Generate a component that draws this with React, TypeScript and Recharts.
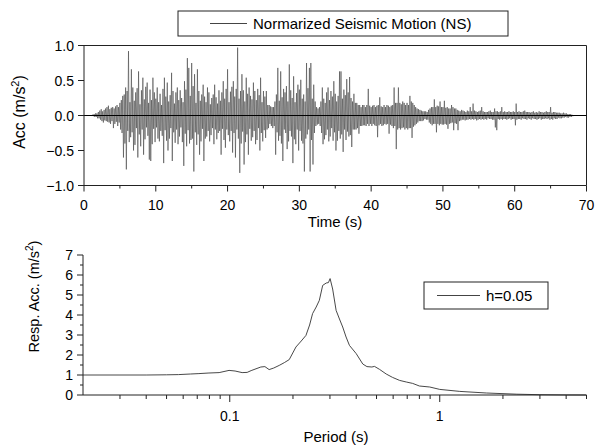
import { LineChart, Line, XAxis, YAxis, ReferenceLine } from "recharts";

const FONT = '"Liberation Sans", Arial, sans-serif';

// digitised record, one sample every DT seconds
const DT = 0.1;

// acceleration (m/s²), 10 samples per second, one row per second
const acc0to10 = [
  0, 0, 0, 0, 0, 0, 0, 0, 0, 0,
  0, 0, 0.01, -0.01, 0.02, -0.02, 0.03, -0.02, 0.03, -0.04,
  0.05, -0.04, 0.07, -0.06, 0.09, -0.08, 0.06, -0.1, 0.08, -0.07,
  0.1, -0.08, 0.12, -0.09, 0.14, -0.1, 0.09, -0.12, 0.11, -0.08,
  0.12, -0.18, 0.1, -0.12, 0.13, -0.09, 0.15, -0.15, 0.12, -0.1,
  0.18, -0.2, 0.22, -0.25, 0.28, -0.6, 0.3, -0.4, 0.4, -0.77,
  0.35, -0.22, 0.92, -0.38, 0.19, -0.31, 0.66, -0.24, 0.4, -0.5,
  0.21, -0.42, 0.33, -0.18, 0.39, -0.6, 0.63, -0.27, 0.16, -0.44,
  0.36, -0.2, 0.54, -0.56, 0.23, -0.34, 0.41, -0.17, 0.47, -0.29,
  0.18, -0.63, 0.37, -0.65, 0.22, -0.41, 0.54, -0.19, 0.33, -0.38,
];
const acc10to20 = [
  0.24, -0.17, 0.4, -0.33, 0.19, -0.37, 0.31, -0.22, 0.15, -0.29,
  0.38, -0.68, 0.54, -0.21, 0.27, -0.36, 0.47, -0.5, 0.2, -0.33,
  0.29, -0.18, 0.61, -0.65, 0.35, -0.24, 0.17, -0.39, 0.33, -0.2,
  0.4, -0.41, 0.22, -0.3, 0.36, -0.17, 0.25, -0.38, 0.19, -0.72,
  0.49, -0.26, 0.37, -0.44, 0.82, -0.21, 0.68, -0.4, 0.28, -0.35,
  0.75, -0.33, 0.42, -0.8, 0.59, -0.24, 0.18, -0.42, 0.66, -0.27,
  0.35, -0.56, 0.21, -0.37, 0.3, -0.19, 0.44, -0.65, 0.27, -0.33,
  0.19, -0.3, 0.4, -0.22, 0.33, -0.37, 0.16, -0.28, 0.25, -0.18,
  0.3, -0.41, 0.44, -0.2, 0.26, -0.34, 0.17, -0.25, 0.36, -0.22,
  0.21, -0.56, 0.33, -0.19, 0.49, -0.35, 0.24, -0.46, 0.38, -0.2,
];
const acc20to30 = [
  0.66, -0.28, 0.19, -0.37, 0.34, -0.22, 0.41, -0.53, 0.49, -0.25,
  0.27, -0.6, 0.38, -0.2, 0.97, -0.33, 0.24, -0.82, 0.35, -0.4,
  0.59, -0.23, 0.36, -0.7, 0.2, -0.38, 0.54, -0.27, 0.31, -0.56,
  0.4, -0.19, 0.28, -0.36, 0.23, -0.31, 0.47, -0.22, 0.35, -0.41,
  0.22, -0.35, 0.38, -0.18, 0.29, -0.5, 0.54, -0.25, 0.19, -0.37,
  0.35, -0.21, 0.27, -0.32, 0.35, -0.2, 0.15, -0.18, 0.15, -0.12,
  0.13, -0.15, 0.12, -0.18, 0.12, -0.15, 0.2, -0.56, 0.3, -0.24,
  0.68, -0.36, 0.21, -0.29, 0.63, -0.4, 0.26, -0.65, 0.38, -0.2,
  0.33, -0.25, 0.42, -0.48, 0.2, -0.37, 0.73, -0.22, 0.36, -0.3,
  0.25, -0.68, 0.56, -0.34, 0.19, -0.41, 0.32, -0.2, 0.44, -0.5,
];
const acc30to40 = [
  0.37, -0.22, 0.51, -0.36, 0.24, -0.4, 0.3, -0.8, 0.2, -0.33,
  0.75, -0.27, 0.39, -0.2, 0.68, -0.8, 0.75, -0.35, 0.24, -0.7,
  0.44, -0.25, 0.2, -0.15, 0.12, -0.13, 0.1, -0.12, 0.12, -0.15,
  0.2, -0.25, 0.4, -0.41, 0.24, -0.34, 0.18, -0.28, 0.33, -0.2,
  0.4, -0.37, 0.22, -0.3, 0.35, -0.18, 0.27, -0.36, 0.49, -0.24,
  0.31, -0.5, 0.2, -0.36, 0.28, -0.22, 0.63, -0.33, 0.63, -0.27,
  0.24, -0.52, 0.37, -0.2, 0.29, -0.35, 0.52, -0.23, 0.33, -0.3,
  0.55, -0.28, 0.25, -0.45, 0.2, -0.2, 0.31, -0.2, 0.18, -0.2,
  0.18, -0.18, 0.15, -0.26, 0.15, -0.15, 0.12, -0.15, 0.15, -0.14,
  0.15, -0.14, 0.12, -0.15, 0.15, -0.12, 0.38, -0.15, 0.14, -0.12,
];
const acc40to50 = [
  0.12, -0.15, 0.14, -0.12, 0.15, -0.14, 0.12, -0.15, 0.14, -0.31,
  0.15, -0.14, 0.26, -0.12, 0.13, -0.15, 0.12, -0.14, 0.15, -0.12,
  0.12, -0.13, 0.15, -0.12, 0.14, -0.26, 0.12, -0.13, 0.14, -0.15,
  0.15, -0.18, 0.4, -0.15, 0.18, -0.48, 0.18, -0.2, 0.4, -0.18,
  0.18, -0.2, 0.16, -0.18, 0.2, -0.17, 0.18, -0.2, 0.15, -0.18,
  0.18, -0.2, 0.15, -0.18, 0.28, -0.18, 0.2, -0.32, 0.18, -0.16,
  0.15, -0.14, 0.12, -0.12, 0.1, -0.1, 0.09, -0.08, 0.08, -0.08,
  0.07, -0.08, 0.06, -0.07, 0.06, -0.05, 0.06, -0.06, 0.05, -0.06,
  0.08, -0.1, 0.1, -0.12, 0.12, -0.14, 0.12, -0.12, 0.23, -0.12,
  0.12, -0.24, 0.14, -0.12, 0.13, -0.14, 0.2, -0.12, 0.12, -0.13,
];
const acc50to60 = [
  0.12, -0.13, 0.21, -0.12, 0.11, -0.13, 0.12, -0.19, 0.1, -0.12,
  0.1, -0.11, 0.15, -0.1, 0.12, -0.21, 0.1, -0.11, 0.1, -0.12,
  0.08, -0.21, 0.07, -0.08, 0.06, -0.07, 0.08, -0.06, 0.07, -0.06,
  0.06, -0.07, 0.05, -0.06, 0.07, -0.06, 0.06, -0.05, 0.12, -0.06,
  0.06, -0.05, 0.17, -0.06, 0.07, -0.05, 0.06, -0.07, 0.05, -0.06,
  0.06, -0.05, 0.07, -0.06, 0.12, -0.05, 0.06, -0.06, 0.05, -0.05,
  0.05, -0.06, 0.05, -0.04, 0.06, -0.05, 0.07, -0.05, 0.05, -0.06,
  0.05, -0.06, 0.1, -0.17, 0.06, -0.21, 0.06, -0.05, 0.05, -0.06,
  0.06, -0.05, 0.12, -0.06, 0.05, -0.05, 0.06, -0.05, 0.05, -0.06,
  0.05, -0.05, 0.06, -0.04, 0.05, -0.06, 0.05, -0.05, 0.06, -0.05,
];
const acc60to70 = [
  0.05, -0.14, 0.17, -0.06, 0.05, -0.05, 0.06, -0.05, 0.05, -0.06,
  0.05, -0.04, 0.06, -0.05, 0.07, -0.05, 0.05, -0.06, 0.05, -0.04,
  0.05, -0.05, 0.04, -0.06, 0.05, -0.04, 0.06, -0.05, 0.04, -0.05,
  0.05, -0.06, 0.04, -0.05, 0.06, -0.04, 0.05, -0.06, 0.05, -0.05,
  0.04, -0.05, 0.05, -0.04, 0.06, -0.05, 0.05, -0.04, 0.05, -0.06,
  0.12, -0.05, 0.04, -0.06, 0.05, -0.04, 0.05, -0.05, 0.04, -0.05,
  0.04, -0.03, 0.04, -0.04, 0.03, -0.04, 0.03, -0.03, 0.04, -0.03,
  0.03, -0.02, 0.03, -0.03, 0.02, -0.03, 0.02, -0.02, 0.02, -0.02,
  0.01, -0.01, 0,
];

const timeTicks = [0, 5, 10, 15, 20, 25, 30, 35, 40, 45, 50, 55, 60, 65, 70];
const accTicks = [-1, -0.5, 0, 0.5, 1];

// acceleration response spectrum, h = 0.05
const periods = [
  0.02, 0.03, 0.04, 0.05, 0.057, 0.065, 0.0713, 0.0796, 0.089, 0.0992,
  0.106, 0.1145, 0.121, 0.1264, 0.1406, 0.147, 0.154, 0.162, 0.172, 0.182,
  0.192, 0.2066, 0.219, 0.2306, 0.24, 0.248, 0.258, 0.267, 0.277, 0.288,
  0.295, 0.3005, 0.309, 0.321, 0.333, 0.345, 0.358, 0.3715, 0.4, 0.43,
  0.45, 0.475, 0.489, 0.517, 0.556, 0.596, 0.644, 0.693, 0.743, 0.8,
  0.896, 1.0, 1.246, 1.67, 2.33, 3.0, 4.0, 5.0,
];
const respAcc = [
  1.0, 1.0, 1.0, 1.01, 1.02, 1.05, 1.07, 1.1, 1.12, 1.23,
  1.2, 1.12, 1.13, 1.22, 1.4, 1.42, 1.27, 1.35, 1.48, 1.62,
  1.77, 2.4, 2.7, 2.98, 3.5, 4.07, 4.4, 4.73, 5.48, 5.6,
  5.62, 5.82, 5.3, 4.23, 3.8, 3.4, 2.9, 2.48, 2.07, 1.55,
  1.42, 1.4, 1.43, 1.28, 1.05, 0.88, 0.73, 0.65, 0.58, 0.45,
  0.4, 0.28, 0.18, 0.1, 0.04, 0.015, 0.003, 0,
];

const periodTicks = [
  0.03, 0.04, 0.05, 0.06, 0.07, 0.08, 0.09, 0.1,
  0.2, 0.3, 0.4, 0.5, 0.6, 0.7, 0.8, 0.9, 1, 2, 3, 4, 5,
];
const periodLabels = [0.1, 1];
const saTicks = [0, 0.5, 1, 1.5, 2, 2.5, 3, 3.5, 4, 4.5, 5, 5.5, 6, 6.5, 7];

const accRecord = [
  ...acc0to10, ...acc10to20, ...acc20to30, ...acc30to40,
  ...acc40to50, ...acc50to60, ...acc60to70,
].map((a, i) => ({ t: i * DT, a }));

const spectrum = periods.map((T, i) => ({ T, sa: respAcc[i] }));

const INK = "#222";

function TimeTick({ x, y, payload }: any) {
  const major = payload.value % 10 === 0;
  return (
    <g>
      <line x1={x} x2={x} y1={y} y2={y + (major ? 6 : 3)} stroke={INK} />
      {major && (
        <text x={x} y={y + 24.5} textAnchor="middle" fontSize={14} fontFamily={FONT} fill="#000">
          {payload.value}
        </text>
      )}
    </g>
  );
}

function AccTick({ x, y, payload }: any) {
  const v = payload.value as number;
  const label = (v < 0 ? "\u2212" : "") + Math.abs(v).toFixed(1);
  return (
    <g>
      <line x1={x - 6} x2={x} y1={y} y2={y} stroke={INK} />
      <text x={x - 10} y={y + 5} textAnchor="end" fontSize={14} fontFamily={FONT} fill="#000">
        {label}
      </text>
    </g>
  );
}

function PeriodTick({ x, y, payload }: any) {
  const major = periodLabels.includes(payload.value);
  return (
    <g>
      <line x1={x} x2={x} y1={y} y2={y + (major ? 7 : 4)} stroke={INK} />
      {major && (
        <text x={x} y={y + 26} textAnchor="middle" fontSize={14} fontFamily={FONT} fill="#000">
          {payload.value}
        </text>
      )}
    </g>
  );
}

function SaTick({ x, y, payload }: any) {
  const major = Number.isInteger(payload.value);
  return (
    <g>
      <line x1={x - (major ? 6 : 3)} x2={x} y1={y} y2={y} stroke={INK} />
      {major && (
        <text x={x - 10} y={y + 5} textAnchor="end" fontSize={14} fontFamily={FONT} fill="#000">
          {payload.value}
        </text>
      )}
    </g>
  );
}

export default function App() {
  return (
    <div style={{ position: "absolute", left: 0, top: 0, width: 595, height: 447, background: "#fff" }}>
      <div style={{ position: "absolute", left: 0, top: 0 }}>
        <LineChart
          width={595}
          height={240}
          data={accRecord}
          margin={{ top: 45.5, right: 8.5, bottom: 24.5, left: 24 }}
        >
          <XAxis
            dataKey="t"
            type="number"
            domain={[0, 70]}
            ticks={timeTicks}
            interval={0}
            tick={<TimeTick />}
            tickLine={false}
            tickSize={0}
            tickMargin={0}
            height={30}
            stroke={INK}
          />
          <YAxis
            type="number"
            domain={[-1, 1]}
            ticks={accTicks}
            interval={0}
            tick={<AccTick />}
            tickLine={false}
            tickSize={0}
            tickMargin={0}
            width={60}
            stroke={INK}
          />
          <ReferenceLine y={1} stroke={INK} />
          <ReferenceLine x={70} stroke={INK} />
          <Line
            type="linear"
            dataKey="a"
            stroke="#444"
            strokeWidth={0.6}
            dot={false}
            isAnimationActive={false}
          />
          <ReferenceLine y={0} stroke="#000" strokeWidth={1.2} />
          <rect x={178} y={11} width={330} height={25} fill="#fff" stroke={INK} />
          <line x1={210} x2={247} y1={23.5} y2={23.5} stroke="#444" />
          <text x={253} y={29} fontSize={15} fontFamily={FONT} fill="#000">
            Normarized Seismic Motion (NS)
          </text>
          <text x={335} y={227} textAnchor="middle" fontSize={15} fontFamily={FONT} fill="#000">
            Time (s)
          </text>
          <text
            transform="translate(25,112) rotate(-90)"
            textAnchor="middle"
            fontSize={16}
            fontFamily={FONT}
            fill="#000"
          >
            Acc (m/s<tspan dy={-6} fontSize={11}>2</tspan>
            <tspan dy={6}>)</tspan>
          </text>
        </LineChart>
      </div>
      <div style={{ position: "absolute", left: 0, top: 225 }}>
        <LineChart
          width={595}
          height={222}
          data={spectrum}
          margin={{ top: 30, right: 8.5, bottom: 22, left: 23 }}
        >
          <XAxis
            dataKey="T"
            type="number"
            scale="log"
            domain={[0.02, 5]}
            allowDataOverflow
            ticks={periodTicks}
            interval={0}
            tick={<PeriodTick />}
            tickLine={false}
            tickSize={0}
            tickMargin={0}
            height={30}
            stroke={INK}
          />
          <YAxis
            type="number"
            domain={[0, 7]}
            ticks={saTicks}
            interval={0}
            tick={<SaTick />}
            tickLine={false}
            tickSize={0}
            tickMargin={0}
            width={60}
            stroke={INK}
          />
          <Line
            type="linear"
            dataKey="sa"
            stroke="#333"
            strokeWidth={0.9}
            dot={false}
            isAnimationActive={false}
          />
          <rect x={424} y={57} width={124} height={27} fill="#fff" stroke={INK} />
          <line x1={437} x2={480} y1={70.5} y2={70.5} stroke="#444" />
          <text x={486} y={76} fontSize={15} fontFamily={FONT} fill="#000">
            h=0.05
          </text>
          <text x={336} y={217} textAnchor="middle" fontSize={15} fontFamily={FONT} fill="#000">
            Period (s)
          </text>
          <text
            transform="translate(39,71.5) rotate(-90)"
            textAnchor="middle"
            fontSize={14.5}
            fontFamily={FONT}
            fill="#000"
          >
            Resp. Acc. (m/s<tspan dy={-6} fontSize={10}>2</tspan>
            <tspan dy={6}>)</tspan>
          </text>
        </LineChart>
      </div>
    </div>
  );
}
